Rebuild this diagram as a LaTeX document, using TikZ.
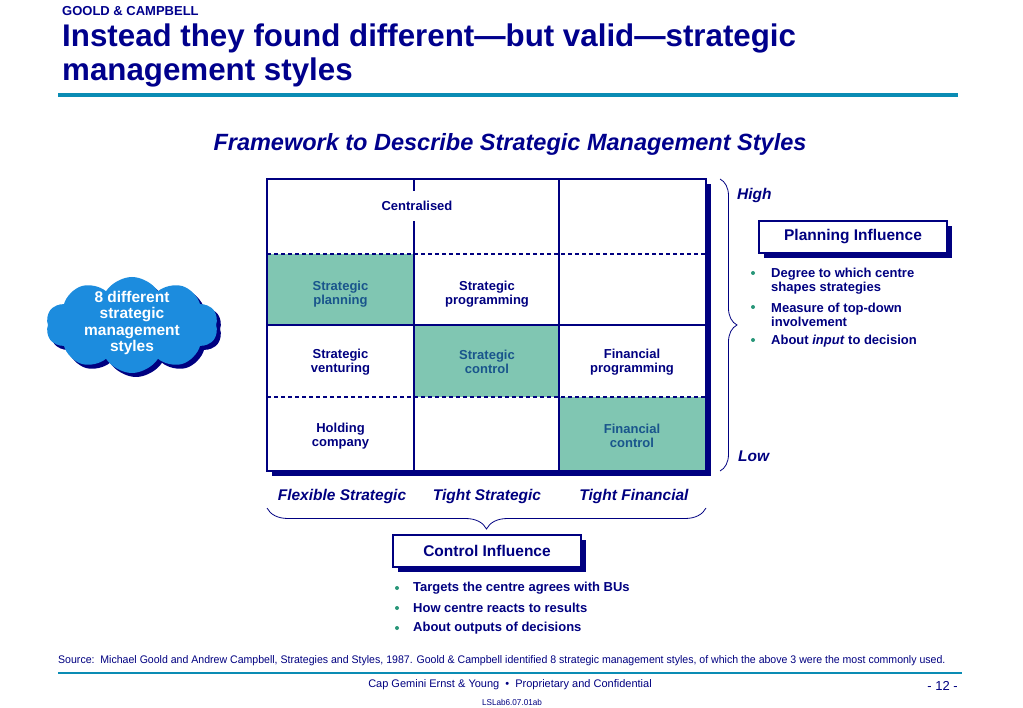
\documentclass[tikz,border=0pt]{standalone}
\usepackage{fontspec}
\setmainfont{Liberation Sans}
\newfontfamily\narrowsans[FakeStretch=0.96]{Liberation Sans}
\usetikzlibrary{positioning}
\usetikzlibrary{shapes.symbols}
\usetikzlibrary{shadows}
\usetikzlibrary{decorations.pathreplacing}

\definecolor{navy}{RGB}{0,0,128}
\definecolor{titleblue}{RGB}{0,0,140}
\definecolor{rulecolor}{RGB}{10,140,180}
\definecolor{cellgreen}{RGB}{128,198,178}
\definecolor{cellink}{RGB}{25,85,140}
\definecolor{cloudblue}{RGB}{28,140,222}
\definecolor{dotgreen}{RGB}{40,150,120}

\tikzset{
  celltext/.style={font=\bfseries\fontsize{13}{14}\selectfont, text=navy, align=center, inner sep=0},
  greentext/.style={celltext, text=cellink},
  axislabel/.style={font=\bfseries\itshape\fontsize{15.5}{18}\selectfont, text=navy, inner sep=0},
  infobox/.style={draw=navy, line width=1.2pt, fill=white, minimum width=188, minimum height=32,
    font=\bfseries\fontsize{15.5}{18}\selectfont, text=navy,
    drop shadow={shadow xshift=5pt, shadow yshift=-5pt, fill=navy, opacity=1}},
  bullettext/.style={font=\bfseries\fontsize{13}{14}\selectfont, text=navy, align=left, anchor=west, inner sep=0},
  bulletdot/.style={circle, fill=dotgreen, inner sep=0, minimum size=4},
  gridline/.style={navy, line width=1.2},
  dashline/.style={navy, line width=1.2, dash pattern=on 4 off 3},
  bracket/.style={navy, line width=0.8, decorate},
}

\begin{document}
\begin{tikzpicture}[x=1pt, y=-1pt]
    \useasboundingbox (0,0) rectangle (1023,708);
    % heading
    \node[anchor=base west, inner sep=0, text=titleblue, font=\bfseries\fontsize{13}{15}\selectfont] (author) at (62,16) {GOOLD \& CAMPBELL};
    \node[anchor=base west, inner sep=0, text=titleblue, font=\bfseries\fontsize{31.3}{35}\selectfont] (title1) at (62,47) {Instead they found different—but valid—strategic};
    \node[anchor=base west, inner sep=0, text=titleblue, font=\bfseries\fontsize{31.3}{35}\selectfont] (title2) at (62,81) {management styles};
    \draw[rulecolor, line width=4] (58,95) -- (958,95);
    \node[text=titleblue, font=\bfseries\itshape\fontsize{23.5}{27}\selectfont] (frame) at (510,144) {Framework to Describe Strategic Management Styles};

    % matrix of styles
    \fill[navy] (272,184) rectangle (711,476);
    \fill[white] (267,179) rectangle (706,471);
    \fill[cellgreen] (267,254) rectangle (414,325);
    \fill[cellgreen] (414,325) rectangle (559,397);
    \fill[cellgreen] (559,397) rectangle (706,471);
    \draw[dashline] (267,254) -- (706,254);
    \draw[dashline] (267,397) -- (706,397);
    \draw[gridline] (267,325) -- (706,325);
    \draw[gridline] (414,179) -- (414,471);
    \draw[gridline] (559,179) -- (559,471);
    \draw[gridline] (267,179) rectangle (706,471);
    \node[celltext, fill=white, inner sep=3, minimum height=30] (central) at (417,206) {Centralised};
    \node[greentext] (splan) at (340.5,294) {Strategic\\planning};
    \node[celltext] (sprog) at (487,294) {Strategic\\programming};
    \node[celltext] (svent) at (340.5,362) {Strategic\\venturing};
    \node[greentext] (sctrl) at (487,362) {Strategic\\control};
    \node[celltext] (fprog) at (632,362) {Financial\\programming};
    \node[celltext] (hold) at (340.5,436) {Holding\\company};
    \node[greentext] (fctrl) at (632,436) {Financial\\control};

    % cloud
    \node[cloud, cloud puffs=10, cloud puff arc=115, aspect=1.8, fill=cloudblue, draw=none,
          minimum width=172, minimum height=96,
          drop shadow={shadow xshift=4pt, shadow yshift=-4pt, fill=navy, opacity=1}] (cloud) at (132,325) {};
    \node[text=white, align=center, font=\bfseries\fontsize{15.5}{16.5}\selectfont] (cloudtext) at (132,323) {8 different\\strategic\\management\\styles};

    % planning influence
    \draw[bracket, decoration={brace, amplitude=17}] (720,179) -- (720,471);
    \node[axislabel, anchor=west] (high) at (737,195) {High};
    \node[axislabel, anchor=west] (low) at (738,456) {Low};
    \node[infobox] (plan) at (853,237) {Planning Influence};
    \node[bulletdot] (pd1) at (753,273) {};
    \node[bullettext] (pb1) at (771,281) {Degree to which centre\\shapes strategies};
    \node[bulletdot] (pd2) at (753,307) {};
    \node[bullettext] (pb2) at (771,315) {Measure of top-down\\involvement};
    \node[bulletdot] (pd3) at (753,340) {};
    \node[bullettext] (pb3) at (771,341) {About \textit{input} to decision};

    % control influence
    \node[axislabel] (flex) at (342,496) {Flexible Strategic};
    \node[axislabel] (tstrat) at (487,496) {Tight Strategic};
    \node[axislabel] (tfin) at (634,496) {Tight Financial};
    \draw[bracket, decoration={brace, amplitude=21}] (706,508) -- (267,508);
    \node[infobox] (ctrl) at (487,551) {Control Influence};
    \node[bulletdot] (cd1) at (397,588) {};
    \node[bullettext] (cb1) at (413,588) {Targets the centre agrees with BUs};
    \node[bulletdot] (cd2) at (397,608) {};
    \node[bullettext] (cb2) at (413,608) {How centre reacts to results};
    \node[bulletdot] (cd3) at (397,628) {};
    \node[bullettext] (cb3) at (413,628) {About outputs of decisions};

    % footer
    \node[anchor=west, inner sep=0, text=navy, font=\narrowsans\fontsize{11}{13}\selectfont] (source) at (58,661) {Source:\ \ Michael Goold and Andrew Campbell, Strategies and Styles, 1987. Goold \& Campbell identified 8 strategic management styles, of which the above 3 were the most commonly used.};
    \draw[rulecolor, line width=1.5] (58,673) -- (962,673);
    \node[text=navy, inner sep=0, font=\fontsize{11}{13}\selectfont] (conf) at (510,685) {Cap Gemini Ernst \& Young \ \textbullet\ \ Proprietary and Confidential};
    \node[anchor=east, text=navy, inner sep=0, font=\fontsize{13}{15}\selectfont] (page) at (958,686) {- 12 -};
    \node[text=navy, inner sep=0, font=\narrowsans\fontsize{8.5}{11}\selectfont] (code) at (512,702) {LSLab6.07.01ab};
\end{tikzpicture}
\end{document}
